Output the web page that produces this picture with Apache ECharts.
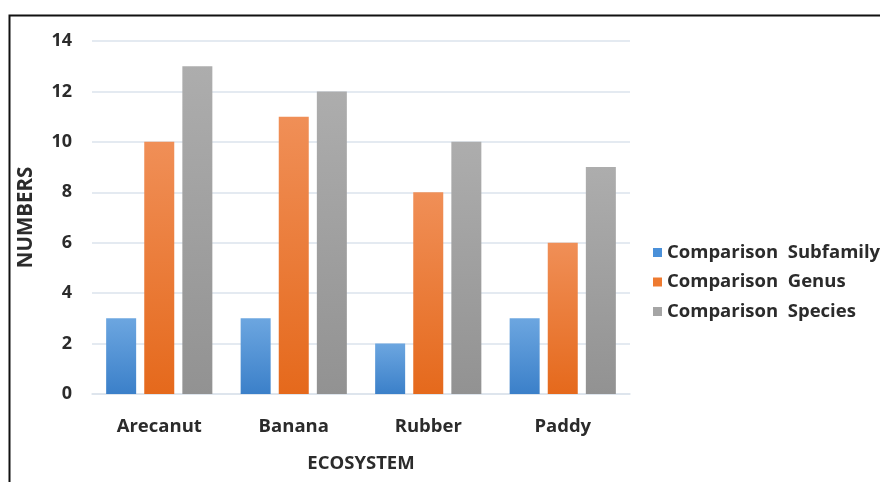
<!DOCTYPE html>
<html><head><meta charset="utf-8">
<script src="https://cdn.jsdelivr.net/npm/echarts@6/dist/echarts.min.js"></script>
<style>html,body{margin:0;padding:0;background:#fff}#c{width:880px;height:482px}</style>
</head><body><div id="c"></div>
<script>
var categories = ['Arecanut', 'Banana', 'Rubber', 'Paddy'];
var seriesNames = ['Comparison  Subfamily', 'Comparison  Genus', 'Comparison  Species'];
var subfamily = [3, 3, 2, 3];
var genus = [10, 11, 8, 6];
var species = [13, 12, 10, 9];
var yTicks = [0, 2, 4, 6, 8, 10, 12, 14];

var FONT = '"Open Sans", sans-serif';
function grad(top, bottom) {
  return new echarts.graphic.LinearGradient(0, 0, 0, 1, [{offset: 0, color: top}, {offset: 1, color: bottom}]);
}
var fills = [grad('#6ca6e0', '#3b80c9'), grad('#f08f57', '#e5691c'), grad('#adadad', '#929292')];
var legendColors = ['#4a90d9', '#ee7a30', '#a5a5a5'];
var values = [subfamily, genus, species];

var chart = echarts.init(document.getElementById('c'), null, {renderer: 'canvas'});
chart.setOption({
  animation: false,
  backgroundColor: '#fff',
  grid: {left: 92, right: 250, top: 41, bottom: 88, containLabel: false},
  legend: {
    orient: 'vertical', left: 648, top: 238, itemWidth: 9, itemHeight: 9, itemGap: 10.5,
    icon: 'rect',
    textStyle: {fontFamily: FONT, fontSize: 18.5, fontWeight: 'bold', color: '#2b2b2b'},
    data: seriesNames.map(function (n, i) { return {name: n, itemStyle: {color: legendColors[i]}}; })
  },
  xAxis: {
    type: 'category', data: categories,
    name: 'ECOSYSTEM', nameLocation: 'middle', nameGap: 60,
    nameTextStyle: {fontFamily: FONT, fontSize: 18.5, fontWeight: 'bold', color: '#2b2b2b'},
    axisLine: {show: true, lineStyle: {color: '#dbe3ec', width: 1.5}},
    axisTick: {show: false},
    axisLabel: {margin: 23, fontFamily: FONT, fontSize: 18.5, fontWeight: 'bold', color: '#2b2b2b'}
  },
  yAxis: {
    type: 'value', min: 0, max: 14, interval: 2,
    name: 'NUMBERS', nameLocation: 'middle', nameGap: 55, nameRotate: 90,
    nameTextStyle: {fontFamily: FONT, fontSize: 20.5, fontWeight: 'bold', color: '#2b2b2b'},
    axisLine: {show: false}, axisTick: {show: false},
    splitLine: {lineStyle: {color: '#dbe3ec', width: 1.5}},
    axisLabel: {margin: 20, fontFamily: FONT, fontSize: 18, fontWeight: 'bold', color: '#2b2b2b',
      formatter: function (v) { return yTicks.indexOf(v) >= 0 ? String(v) : ''; }}
  },
  series: seriesNames.map(function (n, i) {
    return {
      name: n, type: 'bar', data: values[i],
      barWidth: 30, barGap: '27%', barCategoryGap: '21%',
      itemStyle: {color: fills[i]}
    };
  }),
  graphic: [{
    type: 'rect', left: 7, top: 13, z: 100, silent: true,
    shape: {x: 0, y: 0, width: 900, height: 500},
    style: {fill: 'none', stroke: '#111', lineWidth: 2}
  }]
});
</script></body></html>
